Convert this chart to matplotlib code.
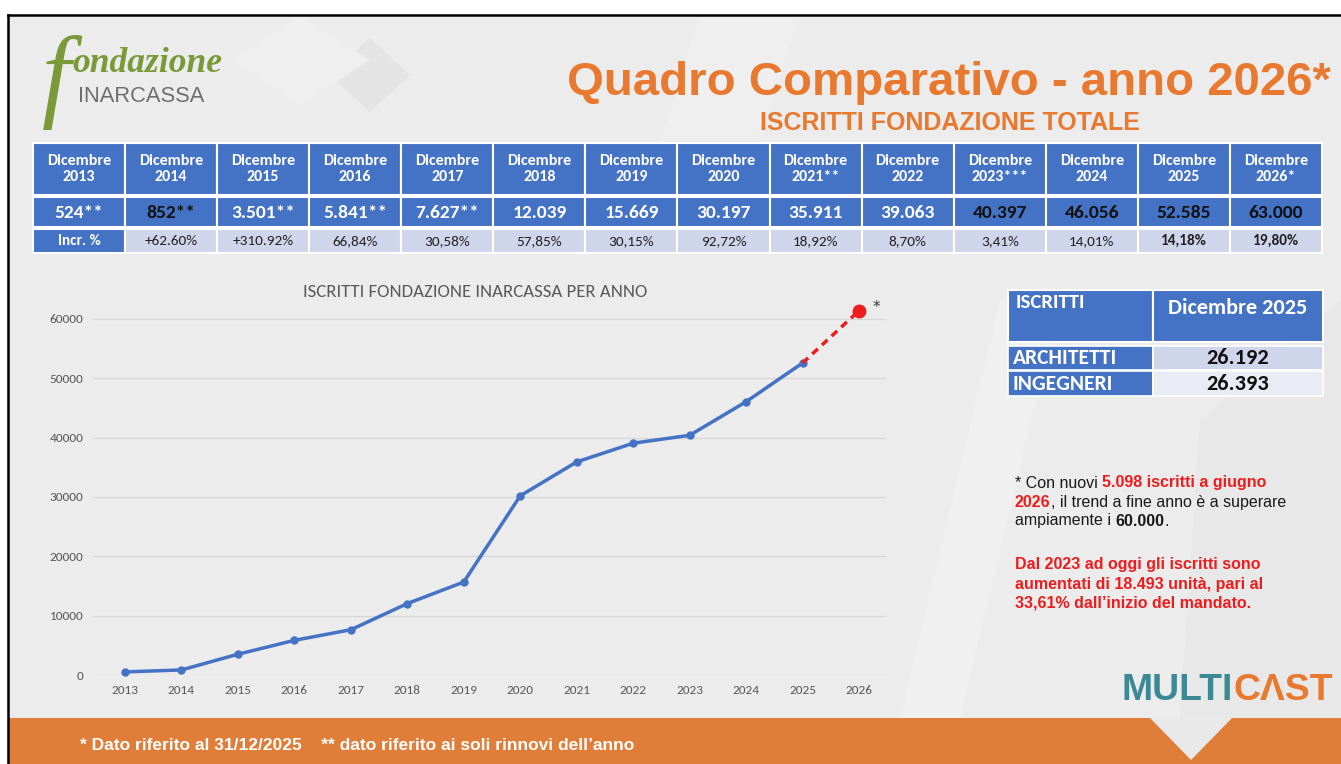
import matplotlib
matplotlib.use("Agg")
import matplotlib.pyplot as plt
from matplotlib.patches import Rectangle, Polygon
from matplotlib import font_manager as fm

# ---------------- data ----------------
years = [2013, 2014, 2015, 2016, 2017, 2018, 2019, 2020, 2021, 2022, 2023, 2024, 2025]
iscritti = [524, 852, 3501, 5841, 7627, 12039, 15669, 30197, 35911, 39063, 40397, 46056, 52585]
proj_years = [2025, 2026]
proj_values = [52585, 61400]

col_headers = ["Dicembre\n2013", "Dicembre\n2014", "Dicembre\n2015", "Dicembre\n2016",
               "Dicembre\n2017", "Dicembre\n2018", "Dicembre\n2019", "Dicembre\n2020",
               "Dicembre\n2021**", "Dicembre\n2022", "Dicembre\n2023***", "Dicembre\n2024",
               "Dicembre\n2025", "Dicembre\n2026*"]
row_values = ["524**", "852**", "3.501**", "5.841**", "7.627**", "12.039", "15.669",
              "30.197", "35.911", "39.063", "40.397", "46.056", "52.585", "63.000"]
row_incr = ["Incr. %", "+62.60%", "+310.92%", "66,84%", "30,58%", "57,85%", "30,15%",
            "92,72%", "18,92%", "8,70%", "3,41%", "14,01%", "14,18%", "19,80%"]

side_header = ["ISCRITTI", "Dicembre 2025"]
side_labels = ["ARCHITETTI", "INGEGNERI"]
side_values = ["26.192", "26.393"]

y_ticks = [0, 10000, 20000, 30000, 40000, 50000, 60000]

# ---------------- fonts ----------------
def has_font(name):
    try:
        fm.findfont(fm.FontProperties(family=name), fallback_to_default=False)
        return True
    except Exception:
        return False

CAL = 'Carlito' if has_font('Carlito') else 'Lato'
ARIAL = 'Liberation Sans'
NARROW = 'Liberation Sans Narrow' if has_font('Liberation Sans Narrow') else 'Liberation Sans'
SERIF = 'Liberation Serif'

W, H = 1341, 764
fig = plt.figure(figsize=(W / 100, H / 100), dpi=100)
fig.patch.set_facecolor('#ECECEC')
renderer = fig.canvas.get_renderer()

bg = fig.add_axes([0, 0, 1, 1], zorder=0)
bg.set_xlim(0, W)
bg.set_ylim(H, 0)
bg.axis('off')

BLUE = '#4472C4'
LAV1 = '#CFD5EA'
LAV2 = '#E9EBF5'
ORANGE = '#E8792E'
RED = '#EE1C1C'

# faint background shapes
for pts, c in [([(330, 75), (370, 38), (410, 75), (370, 112)], '#E4E4E4'),
               ([(230, 60), (300, 15), (370, 60), (300, 105)], '#EFEFEF'),
               ([(700, 15), (800, 15), (760, 140), (660, 140)], '#EFEFEF'),
               ([(1000, 300), (1060, 300), (960, 718), (900, 718)], '#F0F0F0'),
               ([(1200, 420), (1341, 300), (1341, 718), (1180, 718)], '#E8E8E8')]:
    bg.add_patch(Polygon(pts, closed=True, facecolor=c, edgecolor='none', zorder=0))

# white margins and black frame
bg.add_patch(Rectangle((0, 0), W, 14, facecolor='white', edgecolor='none', zorder=1))
bg.add_patch(Rectangle((0, 0), 7, H, facecolor='white', edgecolor='none', zorder=1))
bg.plot([8, W], [15, 15], color='black', lw=1.8, zorder=5)
bg.plot([8, 8], [15, H], color='black', lw=1.8, zorder=5)

# bottom orange band with chevron
bg.add_patch(Rectangle((8, 718), W - 8, H - 718, facecolor='#E07E39', edgecolor='none', zorder=2))
bg.add_patch(Polygon([(1150, 718), (1232, 718), (1191, 760)], closed=True,
                     facecolor='#E9E9E9', edgecolor='none', zorder=3))


def ftext(x, y, s, size, target_w=None, **kw):
    t = fig.text(x / W, 1 - y / H, s, fontsize=size, **kw)
    if target_w:
        w = t.get_window_extent(renderer).width
        t.set_fontsize(size * target_w / w)
    return t


def runs(x, y, parts, size, family):
    for s, c, wt in parts:
        t = fig.text(x / W, 1 - y / H, s, color=c, fontweight=wt, fontsize=size,
                     family=family, va='center', ha='left')
        x += t.get_window_extent(renderer).width


# ---------------- logo ----------------
ftext(56, 82, "f", 74, family=SERIF, style='italic', color='#7A9A3A',
      ha='center', va='center')
ftext(72, 72, "ondazione", 25, target_w=150, family=SERIF, style='italic',
      fontweight='bold', color='#7A9A3A', ha='left', va='baseline')
ftext(78, 102, "INARCASSA", 17, target_w=126, family=ARIAL, color='#6E6E6E',
      ha='left', va='baseline')

# ---------------- titles ----------------
ftext(567, 95, "Quadro Comparativo - anno 2026*", 37, target_w=763, family=ARIAL,
      fontweight='bold', color=ORANGE, ha='left', va='baseline')
ftext(760, 130, "ISCRITTI FONDAZIONE TOTALE", 16, target_w=382, family=NARROW,
      fontweight='bold', color=ORANGE, ha='left', va='baseline')

# ---------------- main table ----------------
x0, cw = 33, 92.07
rows = [(143, 195), (197, 227), (229, 253)]
for i in range(len(col_headers)):
    xl = x0 + i * cw
    # header
    bg.add_patch(Rectangle((xl, rows[0][0]), cw, rows[0][1] - rows[0][0],
                           facecolor=BLUE, edgecolor='white', lw=1.5, zorder=3))
    bg.text(xl + cw / 2, (rows[0][0] + rows[0][1]) / 2, col_headers[i], ha='center',
            va='center', color='white', fontsize=11.5, fontweight='bold', family=CAL,
            linespacing=1.2, zorder=4)
    # values
    bg.add_patch(Rectangle((xl, rows[1][0]), cw, rows[1][1] - rows[1][0],
                           facecolor=BLUE, edgecolor='white', lw=1.5, zorder=3))
    vcol = '#111111' if (i == 1 or i >= 10) else 'white'
    bg.text(xl + cw / 2, (rows[1][0] + rows[1][1]) / 2 + 1, row_values[i], ha='center',
            va='center', color=vcol, fontsize=14, fontweight='bold', family=CAL, zorder=4)
    # incr
    fc = BLUE if i == 0 else LAV1
    tc = 'white' if i == 0 else '#222222'
    wt = 'bold' if (i == 0 or i >= 12) else 'normal'
    bg.add_patch(Rectangle((xl, rows[2][0]), cw, rows[2][1] - rows[2][0],
                           facecolor=fc, edgecolor='white', lw=1.5, zorder=3))
    bg.text(xl + cw / 2, (rows[2][0] + rows[2][1]) / 2, row_incr[i], ha='center',
            va='center', color=tc, fontsize=11, fontweight=wt, family=CAL, zorder=4)

# ---------------- side table ----------------
sx0, sx1, sx2 = 1008, 1153, 1323
bg.add_patch(Rectangle((sx0, 290), sx1 - sx0, 52, facecolor=BLUE, edgecolor='white', lw=1.5, zorder=3))
bg.add_patch(Rectangle((sx1, 290), sx2 - sx1, 52, facecolor=BLUE, edgecolor='white', lw=1.5, zorder=3))
bg.text(sx0 + 8, 302, side_header[0], ha='left', va='center', color='white',
        fontsize=15, fontweight='bold', family=CAL, zorder=4)
bg.text((sx1 + sx2) / 2, 308, side_header[1], ha='center', va='center', color='white',
        fontsize=16, fontweight='bold', family=CAL, zorder=4)
for k, (top, bot) in enumerate([(346, 370), (371, 396)]):
    bg.add_patch(Rectangle((sx0, top), sx1 - sx0, bot - top, facecolor=BLUE,
                           edgecolor='white', lw=1.2, zorder=3))
    bg.add_patch(Rectangle((sx1, top), sx2 - sx1, bot - top, facecolor=(LAV1 if k == 0 else LAV2),
                           edgecolor='white', lw=1.2, zorder=3))
    bg.text(sx0 + 5, (top + bot) / 2, side_labels[k], ha='left', va='center', color='white',
            fontsize=15.5, fontweight='bold', family=CAL, zorder=4)
    bg.text((sx1 + sx2) / 2, (top + bot) / 2, side_values[k], ha='center', va='center',
            color='#111111', fontsize=16, fontweight='bold', family=CAL, zorder=4)

# ---------------- notes ----------------
fs = 11.5
runs(1015, 483, [("* Con nuovi ", '#1A1A1A', 'normal'), ("5.098 iscritti a giugno", RED, 'bold')], fs, ARIAL)
runs(1015, 502, [("2026", RED, 'bold'), (", il trend a fine anno è a superare", '#1A1A1A', 'normal')], fs, ARIAL)
runs(1015, 521, [("ampiamente i ", '#1A1A1A', 'normal'), ("60.000", '#1A1A1A', 'bold'), (".", '#1A1A1A', 'normal')], fs, ARIAL)
for j, line in enumerate(["Dal 2023 ad oggi gli iscritti sono",
                          "aumentati di 18.493 unità, pari al",
                          "33,61% dall’inizio del mandato."]):
    ftext(1015, 565 + 19 * j, line, fs, family=ARIAL, fontweight='bold', color=RED,
          ha='left', va='center')

# footer
ftext(80, 745, "* Dato riferito al 31/12/2025    ** dato riferito ai soli rinnovi dell’anno", 11,
      target_w=557, family=NARROW, fontweight='bold', color='white', ha='left', va='center')

# MULTICAST logo (fit to 1122..1333)
t1 = ftext(1122, 700, "MULTI", 28, family=ARIAL, fontweight='bold',
           color='#3C8893', ha='left', va='baseline')
t2 = ftext(1122, 700, "CΛST", 28, family=ARIAL, fontweight='bold',
           color='#E8792E', ha='left', va='baseline')
w1 = t1.get_window_extent(renderer).width
w2 = t2.get_window_extent(renderer).width
scale = 211 / (w1 + w2)
t1.set_fontsize(28 * scale)
t2.set_fontsize(28 * scale)
t2.set_x((1122 + w1 * scale) / W)

# ---------------- chart ----------------
L, R, T, B = 93, 886, 300, 675
ax = fig.add_axes([L / W, 1 - B / H, (R - L) / W, (B - T) / H], zorder=2)
ax.patch.set_alpha(0)
px_year = (859 - 125) / 13
ax.set_xlim(2013 - (125 - L) / px_year, 2026 + (R - 859) / px_year)
ax.set_ylim(0, 60000 * (B - T) / (675 - 319))

ax.plot(years, iscritti, color=BLUE, lw=2.5, marker='o', ms=5, zorder=3, clip_on=False)
ax.plot(proj_years, proj_values, color=RED, lw=2.5, ls=(0, (2.2, 1.6)), zorder=3, clip_on=False)
ax.plot(proj_years[-1:], proj_values[-1:], color=RED, marker='o', ms=9, ls='none', zorder=4,
        clip_on=False)
ax.annotate("*", (proj_years[-1], proj_values[-1]), xytext=(10, 2), textcoords='offset points',
            fontsize=11, color='#333333', ha='left', va='center')

ax.set_yticks(y_ticks)
ax.set_yticklabels([str(v) for v in y_ticks])
ax.set_xticks(years + [2026])
ax.set_xticklabels([str(y) for y in years + [2026]])
ax.grid(axis='y', color='#D6D6D6', lw=0.9)
ax.set_axisbelow(True)
for s in ax.spines.values():
    s.set_visible(False)
ax.tick_params(length=0, labelsize=9.5, labelcolor='#595959', pad=7)
for lab in ax.get_xticklabels() + ax.get_yticklabels():
    lab.set_family(CAL)
ax.set_title("ISCRITTI FONDAZIONE INARCASSA PER ANNO", fontsize=13.5, color='#595959',
             family=CAL, pad=-2, x=(475 - L) / (R - L))

fig.savefig("out.png", dpi=100, facecolor=fig.get_facecolor())
